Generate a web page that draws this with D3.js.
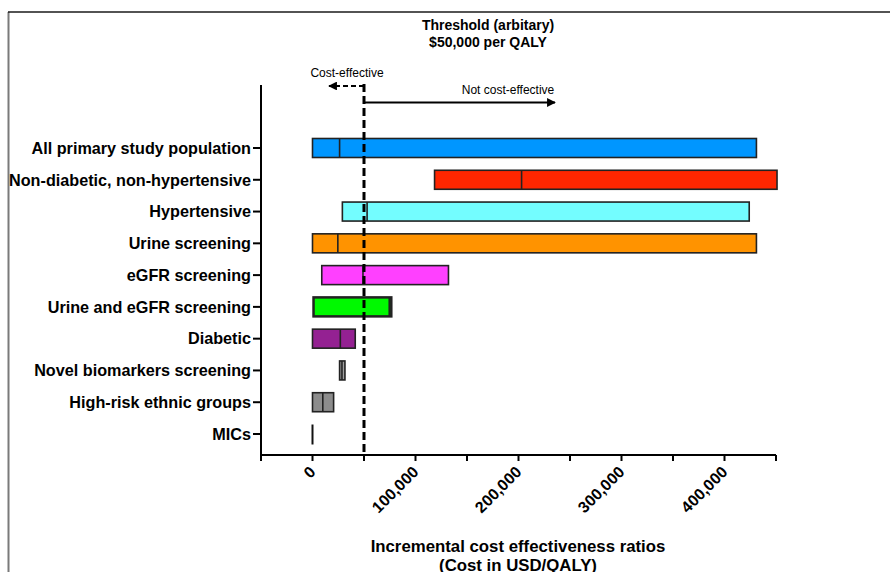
<!DOCTYPE html>
<html>
<head>
<meta charset="utf-8">
<script src="https://cdn.jsdelivr.net/npm/d3@7"></script>
<style>
    html, body { margin: 0; padding: 0; background: #fff; }
    svg { display: block; font-family: "Liberation Sans", Arial, sans-serif; }
</style>
</head>
<body>
<svg id="chart" width="890" height="572"></svg>
<script>
// categories, top to bottom
const categories = [
    "All primary study population",
    "Non-diabetic, non-hypertensive",
    "Hypertensive",
    "Urine screening",
    "eGFR screening",
    "Urine and eGFR screening",
    "Diabetic",
    "Novel biomarkers screening",
    "High-risk ethnic groups",
    "MICs"
];

// ICER ranges (USD/QALY): low, mid line, high
const lowValues  = [0, 118500, 29000, 0, 9000, 1000, 0, 26300, 0, 0];
const midValues  = [26300, 203000, 53000, 24600, 49000, 74500, 27000, 28600, 10000, 0];
const highValues = [431000, 451000, 424000, 431000, 132000, 76500, 41500, 31500, 20500, 0];

const barColors = ["#0096FF", "#FF2600", "#73FDFF", "#FF9300", "#FF40FF",
    "#00F900", "#942192", "#A0A0A0", "#8C8C8C", "#8C8C8C"];

const tickValues = [-50000, 0, 50000, 100000, 150000, 200000, 250000, 300000, 350000, 400000, 450000];
const tickLabels = ["0", "100,000", "200,000", "300,000", "400,000"];
const threshold = 50000;

/**
 * Basic sizes and elements
 */
const svg = d3.select("#chart");
const axisY = 455;
const axisLeft = 261;
const axisRight = 776;
const barHeight = 19;

const xScale = d3.scaleLinear().domain([-50000, 450000]).range([axisLeft, axisRight]);
const yScale = d3.scalePoint().domain(categories).range([148, 434]);

// frame
svg.append("line")
    .attr("x1", 8.5).attr("x2", 8.5).attr("y1", 12).attr("y2", 572)
    .attr("stroke", "#7a7a7a").attr("stroke-width", 2);
svg.append("line")
    .attr("x1", 8).attr("x2", 890).attr("y1", 12).attr("y2", 12)
    .attr("stroke", "#1a1a1a").attr("stroke-width", 1.5);

svg.append("defs").append("marker")
    .attr("id", "arrow")
    .attr("viewBox", "0 0 10 10")
    .attr("refX", 9).attr("refY", 5)
    .attr("markerWidth", 5).attr("markerHeight", 4)
    .attr("markerUnits", "strokeWidth")
    .attr("orient", "auto")
    .append("path")
    .attr("d", "M0,0 L10,5 L0,10 Z")
    .attr("fill", "#000");

/**
 * Bars
 */
const bars = svg.append("g");
categories.forEach((c, i) => {
    const y = yScale(c) - barHeight / 2;
    const x0 = xScale(lowValues[i]);
    const x1 = xScale(highValues[i]);
    if (x1 - x0 < 0.5) {
        bars.append("line")
            .attr("x1", x0).attr("x2", x0)
            .attr("y1", y).attr("y2", y + barHeight + 1)
            .attr("stroke", "#111").attr("stroke-width", 2);
        return;
    }
    bars.append("rect")
        .attr("x", x0).attr("y", y)
        .attr("width", x1 - x0).attr("height", barHeight)
        .attr("fill", barColors[i])
        .attr("stroke", "#222")
        .attr("stroke-width", i === 5 ? 2.5 : 1.6);
    bars.append("line")
        .attr("x1", xScale(midValues[i])).attr("x2", xScale(midValues[i]))
        .attr("y1", y).attr("y2", y + barHeight)
        .attr("stroke", "#222").attr("stroke-width", 1.6);
});

/**
 * Axes
 */
const xAxis = svg.append("g").attr("transform", `translate(0, ${axisY})`);
xAxis.append("line")
    .attr("x1", axisLeft).attr("x2", axisRight)
    .attr("stroke", "#000").attr("stroke-width", 2);
xAxis.selectAll(".tick")
    .data(tickValues)
    .join("line")
    .attr("x1", d => xScale(d)).attr("x2", d => xScale(d))
    .attr("y1", 0).attr("y2", 6)
    .attr("stroke", "#000").attr("stroke-width", 2);
xAxis.selectAll(".tick-label")
    .data(tickLabels)
    .join("text")
    .attr("transform", (d, i) => `translate(${xScale(i * 100000) + 4}, 18) rotate(-45)`)
    .attr("text-anchor", "end")
    .attr("font-size", 16)
    .attr("font-weight", "bold")
    .text(d => d);

const yAxis = svg.append("g");
yAxis.append("line")
    .attr("x1", axisLeft).attr("x2", axisLeft)
    .attr("y1", 85).attr("y2", axisY + 1)
    .attr("stroke", "#000").attr("stroke-width", 2);
yAxis.selectAll(".cat-tick")
    .data(categories)
    .join("line")
    .attr("x1", axisLeft - 8).attr("x2", axisLeft)
    .attr("y1", d => yScale(d)).attr("y2", d => yScale(d))
    .attr("stroke", "#000").attr("stroke-width", 2);
yAxis.selectAll(".cat-label")
    .data(categories)
    .join("text")
    .attr("x", axisLeft - 10)
    .attr("y", d => yScale(d))
    .attr("dy", "0.36em")
    .attr("text-anchor", "end")
    .attr("font-size", 16.2)
    .attr("font-weight", "bold")
    .text(d => d);

/**
 * Threshold line and arrows
 */
const tx = xScale(threshold);
svg.append("line")
    .attr("x1", tx).attr("x2", tx).attr("y1", 84).attr("y2", axisY)
    .attr("stroke", "#000").attr("stroke-width", 3)
    .attr("stroke-dasharray", "8,4");
svg.append("line")
    .attr("x1", tx).attr("x2", tx - 35).attr("y1", 86).attr("y2", 86)
    .attr("stroke", "#000").attr("stroke-width", 2.2)
    .attr("stroke-dasharray", "5,3")
    .attr("marker-end", "url(#arrow)");
svg.append("line")
    .attr("x1", tx).attr("x2", 555).attr("y1", 102.5).attr("y2", 102.5)
    .attr("stroke", "#000").attr("stroke-width", 2.2)
    .attr("marker-end", "url(#arrow)");

svg.append("text")
    .attr("x", 347).attr("y", 77)
    .attr("text-anchor", "middle")
    .attr("font-size", 12)
    .text("Cost-effective");
svg.append("text")
    .attr("x", 508).attr("y", 94)
    .attr("text-anchor", "middle")
    .attr("font-size", 12)
    .text("Not cost-effective");

/**
 * Titles
 */
svg.append("text")
    .attr("x", 488).attr("y", 30)
    .attr("text-anchor", "middle")
    .attr("font-size", 14).attr("font-weight", "bold")
    .text("Threshold (arbitary)");
svg.append("text")
    .attr("x", 488).attr("y", 46.5)
    .attr("text-anchor", "middle")
    .attr("font-size", 14).attr("font-weight", "bold")
    .text("$50,000 per QALY");

svg.append("text")
    .attr("x", 518).attr("y", 552)
    .attr("text-anchor", "middle")
    .attr("font-size", 16.8).attr("font-weight", "bold")
    .text("Incremental cost effectiveness ratios");
svg.append("text")
    .attr("x", 518).attr("y", 571)
    .attr("text-anchor", "middle")
    .attr("font-size", 16.8).attr("font-weight", "bold")
    .text("(Cost in USD/QALY)");
</script>
</body>
</html>
